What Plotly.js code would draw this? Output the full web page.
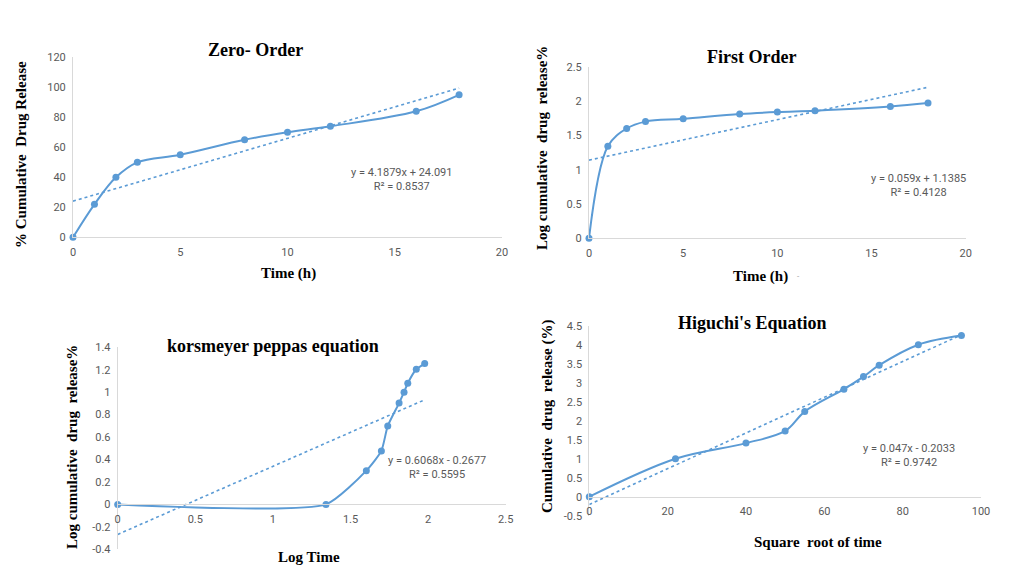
<!DOCTYPE html>
<html>
<head>
<meta charset="utf-8">
<script src="https://cdn.plot.ly/plotly-3.0.1.min.js"></script>
<style>html,body{margin:0;padding:0;background:#fff;}#chart{width:1010px;height:569px;}</style>
</head>
<body>
<div id="chart"></div>
<script>
// ---- Data ----
var timeH = [0, 1, 2, 3, 5, 8, 10, 12, 16, 18];
var zeroOrderRelease = [0, 22, 40, 50, 55, 65, 70, 74, 84, 95];
var firstOrderLogRelease = [0, 1.34, 1.60, 1.70, 1.74, 1.81, 1.84, 1.86, 1.92, 1.97];
var kpX = [0, 1.342, 1.602, 1.699, 1.740, 1.813, 1.845, 1.869, 1.924, 1.978];
var kpY = [0, 0, 0.301, 0.477, 0.699, 0.903, 1.000, 1.079, 1.204, 1.255];
var higX = [0, 22, 40, 50, 55, 65, 70, 74, 84, 95];
var higY = [0, 1.00, 1.41, 1.73, 2.24, 2.83, 3.16, 3.46, 4.00, 4.24];

var zeroFit = {slope: 4.1879, intercept: 24.091, r2: '0.8537'};
var firstFit = {slope: 0.059, intercept: 1.1385, r2: '0.4128'};
var kpFit = {slope: 0.6068, intercept: -0.2677, r2: '0.5595'};
var higFit = {slope: 0.047, intercept: -0.2033, r2: '0.9742'};

var zeroYTicks = [0, 20, 40, 60, 80, 100, 120];
var timeXTicks = [0, 5, 10, 15, 20];
var firstYTicks = [0, 0.5, 1, 1.5, 2, 2.5];
var kpYTicks = [-0.4, -0.2, 0, 0.2, 0.4, 0.6, 0.8, 1, 1.2, 1.4];
var kpYTickText = ['-0.4', '-0.2', '0', '0.2', '0.4', '0.6', '0.8', '1', '1.2', '1.4'];
var kpXTicks = [0, 0.5, 1, 1.5, 2, 2.5];
var higYTicks = [-0.5, 0, 0.5, 1, 1.5, 2, 2.5, 3, 3.5, 4, 4.5];
var higYTickText = ['-0.5', '0', '0.5', '1', '1.5', '2', '2.5', '3', '3.5', '4', '4.5'];
var higXTicks = [0, 20, 40, 60, 80, 100];

// ---- Helpers ----
var W = 1010, H = 569;
function fx(p) { return p / W; }
function fy(p) { return 1 - p / H; }
var blue = '#5b9bd5';
var gray = '#595959';
var axisLine = '#d9d9d9';
var tickFont = {family: 'Roboto, Arial, sans-serif', size: 11, color: gray};
var serif = 'Liberation Serif, Times New Roman, serif';

function dataTrace(x, y, xa, ya, smooth) {
  return {x: x, y: y, xaxis: xa, yaxis: ya, type: 'scatter', mode: 'lines+markers',
    line: {color: blue, width: 2, shape: 'spline', smoothing: smooth},
    marker: {color: blue, size: 7}, cliponaxis: false, showlegend: false, hoverinfo: 'x+y'};
}
function fitTrace(x, fit, xa, ya) {
  var x0 = Math.min.apply(null, x), x1 = Math.max.apply(null, x);
  return {x: [x0, x1], y: [fit.slope * x0 + fit.intercept, fit.slope * x1 + fit.intercept],
    xaxis: xa, yaxis: ya, type: 'scatter', mode: 'lines', cliponaxis: false,
    line: {color: blue, width: 1.6, dash: 'dot'}, showlegend: false, hoverinfo: 'skip'};
}
function eqText(fit) {
  var s = fit.intercept < 0 ? ' - ' : ' + ';
  return 'y = ' + fit.slope + 'x' + s + Math.abs(fit.intercept) + '<br>R\u00b2 = ' + fit.r2;
}
function axisBase(extra) {
  var a = {showgrid: false, zeroline: false, showline: true, linecolor: axisLine, linewidth: 1,
    ticks: '', tickfont: tickFont, fixedrange: true, ticklabelstandoff: 4};
  for (var k in extra) a[k] = extra[k];
  return a;
}

var traces = [
  dataTrace(timeH, zeroOrderRelease, 'x', 'y', 1),
  fitTrace(timeH, zeroFit, 'x', 'y'),
  dataTrace(timeH, firstOrderLogRelease, 'x2', 'y2', 1),
  fitTrace(timeH, firstFit, 'x2', 'y2'),
  dataTrace(kpX, kpY, 'x3', 'y3', 0.55),
  fitTrace(kpX, kpFit, 'x3', 'y3'),
  dataTrace(higX, higY, 'x4', 'y4', 1),
  fitTrace(higX, higFit, 'x4', 'y4')
];

// domains (pixel based)
var d1 = {x: [fx(73), fx(502)], y: [fy(237.3), fy(57.3)]};
var d2 = {x: [fx(589), fx(965.7)], y: [fy(238.3), fy(66.7)]};
var d3 = {x: [fx(117.7), fx(505.7)], y: [fy(549.3), fy(347.3)]};
var d4 = {x: [fx(589.3), fx(981)], y: [fy(515.7), fy(325.7)]};

var kpRange = [-0.4, 1.4];
var higRange = [-0.5, 4.5];
var kpPos = d3.y[0] + (0 - kpRange[0]) / (kpRange[1] - kpRange[0]) * (d3.y[1] - d3.y[0]);
var higPos = d4.y[0] + (0 - higRange[0]) / (higRange[1] - higRange[0]) * (d4.y[1] - d4.y[0]);

function ann(text, x, y, font, extra) {
  var a = {text: text, x: fx(x), y: fy(y), xref: 'paper', yref: 'paper', showarrow: false,
    xanchor: 'center', yanchor: 'middle', font: font};
  for (var k in extra) a[k] = extra[k];
  return a;
}
var titleFont = {family: serif, size: 18, color: '#000', weight: 'bold'};
var axTitleFont = {family: serif, size: 15, color: '#000', weight: 'bold'};
var eqFont = {family: 'Roboto, Arial, sans-serif', size: 11, color: gray};
var nb = '\u00a0';

var layout = {
  width: W, height: H, margin: {l: 0, r: 0, t: 0, b: 0},
  paper_bgcolor: '#fff', plot_bgcolor: 'rgba(0,0,0,0)', showlegend: false,
  xaxis: axisBase({domain: d1.x, anchor: 'y', range: [0, 20], tickvals: timeXTicks}),
  yaxis: axisBase({domain: d1.y, anchor: 'x', range: [0, 120], tickvals: zeroYTicks}),
  xaxis2: axisBase({domain: d2.x, anchor: 'y2', range: [0, 20], tickvals: timeXTicks}),
  yaxis2: axisBase({domain: d2.y, anchor: 'x2', range: [0, 2.5], tickvals: firstYTicks}),
  xaxis3: axisBase({domain: d3.x, anchor: 'free', position: kpPos, range: [0, 2.5], tickvals: kpXTicks}),
  yaxis3: axisBase({domain: d3.y, anchor: 'x3', range: kpRange, tickvals: kpYTicks, ticktext: kpYTickText}),
  xaxis4: axisBase({domain: d4.x, anchor: 'free', position: higPos, range: [0, 100], tickvals: higXTicks}),
  yaxis4: axisBase({domain: d4.y, anchor: 'x4', range: higRange, tickvals: higYTicks, ticktext: higYTickText}),
  annotations: [
    ann('Zero- Order', 255, 50, titleFont),
    ann('First Order', 751, 57, titleFont),
    ann('korsmeyer peppas equation', 273, 346, titleFont),
    ann("Higuchi's Equation", 752, 323, titleFont),
    ann('% Cumulative' + nb + nb + 'Drug Release', 21, 155, axTitleFont, {textangle: -90}),
    ann('Log cumulative' + nb + nb + 'drug' + nb + nb + 'release%', 542, 148, axTitleFont, {textangle: -90}),
    ann('Log cumulative' + nb + nb + 'drug' + nb + nb + 'release%', 72, 447, axTitleFont, {textangle: -90}),
    ann('Cumulative' + nb + nb + 'drug' + nb + nb + 'release (%)', 547, 417, axTitleFont, {textangle: -90}),
    ann('Time (h)', 288, 273, axTitleFont),
    ann('Time (h)', 760, 277, axTitleFont),
    ann('-', 798, 276, {family: 'Roboto, Arial, sans-serif', size: 8, color: '#999'}),
    ann('Log Time', 309, 557, axTitleFont),
    ann('Square' + nb + nb + 'root of time', 818, 542, axTitleFont),
    ann(eqText(zeroFit), 401, 180, eqFont),
    ann(eqText(firstFit), 918, 185, eqFont),
    ann(eqText(kpFit), 437, 468, eqFont),
    ann(eqText(higFit), 909, 455, eqFont)
  ]
};

Plotly.newPlot('chart', traces, layout, {displayModeBar: false, staticPlot: true});
</script>
</body>
</html>
